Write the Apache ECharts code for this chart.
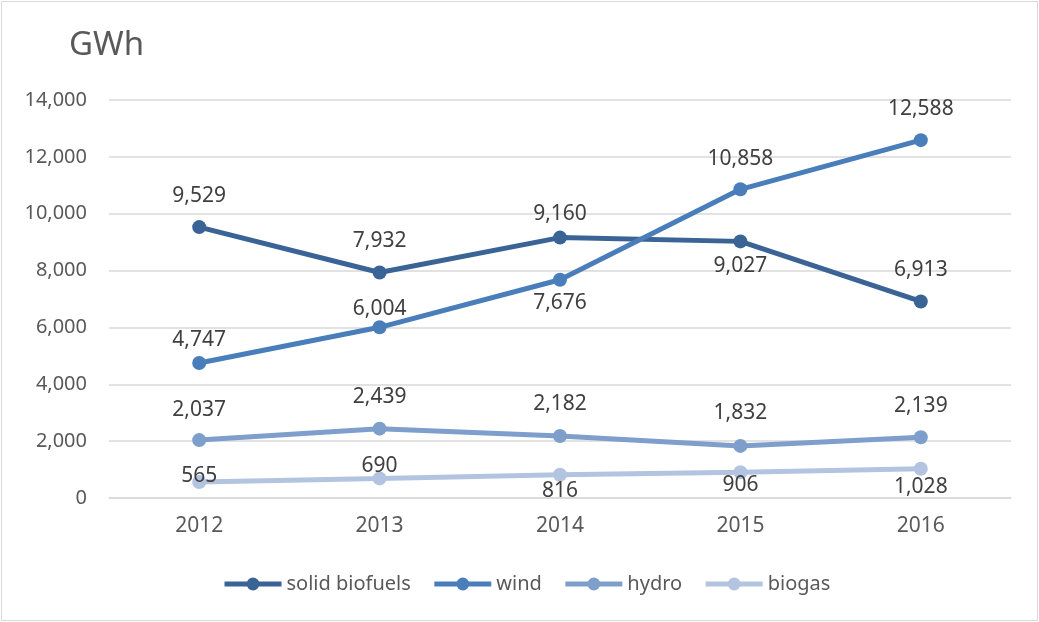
<!DOCTYPE html>
<html>
<head>
<meta charset="utf-8">
<script src="https://cdn.jsdelivr.net/npm/echarts@6/dist/echarts.min.js"></script>
<style>
  html, body { margin: 0; padding: 0; background: #fff; }
  #chart { position: absolute; left: 1px; top: 1px; width: 1035px; height: 618px; border: 1px solid #d9d9d9; }
</style>
</head>
<body>
<div id="chart"></div>
<script>
const years = ['2012', '2013', '2014', '2015', '2016']
const solidBiofuels = [9529, 7932, 9160, 9027, 6913]
const wind = [4747, 6004, 7676, 10858, 12588]
const hydro = [2037, 2439, 2182, 1832, 2139]
const biogas = [565, 690, 816, 906, 1028]

// label placement per point, as in the original: [position, distance]
const solidPos = [['top', 14], ['top', 14], ['top', 6], ['bottom', 7], ['top', 14]]
const windPos = [['top', 6], ['top', 1], ['bottom', 6], ['top', 13], ['top', 14]]
const hydroPos = [['top', 13], ['top', 14], ['top', 14], ['top', 15], ['top', 14]]
const biogasPos = [['inside', 0], ['top', -5], ['bottom', -1], ['bottom', -5], ['bottom', 1]]

const font = 'Noto Sans'
const chart = echarts.init(document.getElementById('chart'))

function mkSeries(name, data, pos, color) {
  return {
    name,
    type: 'line',
    data: data.map((v, i) => ({
      value: v,
      label: pos[i][0] === 'inside'
        ? { position: 'inside', offset: [0, -6] }
        : { position: pos[i][0], distance: pos[i][1] }
    })),
    symbol: 'circle',
    symbolSize: 14,
    lineStyle: { width: 5, color },
    itemStyle: { color },
    label: {
      show: true,
      fontFamily: font,
      fontSize: 21,
      color: '#404040',
      formatter: p => p.value.toLocaleString('en-US')
    },
    emphasis: { disabled: true }
  }
}

chart.setOption({
  animation: false,
  textStyle: { fontFamily: font },
  title: {
    text: 'GWh',
    left: 62,
    top: 22,
    textStyle: { fontFamily: font, fontSize: 33, fontWeight: 'normal', color: '#595959' }
  },
  legend: {
    bottom: 21,
    left: 215,
    itemWidth: 57,
    itemHeight: 16,
    itemGap: 21,
    lineStyle: { width: 5 },
    textStyle: { fontFamily: font, fontSize: 20, color: '#595959' },
    data: ['solid biofuels', 'wind', 'hydro', 'biogas']
  },
  grid: { left: 107, right: 26, top: 98, bottom: 122 },
  xAxis: {
    type: 'category',
    data: years,
    boundaryGap: true,
    axisLine: { lineStyle: { color: '#d9d9d9', width: 1.5 } },
    axisTick: { show: false },
    axisLabel: { fontFamily: font, fontSize: 21, color: '#595959', margin: 18 }
  },
  yAxis: {
    type: 'value',
    min: 0,
    max: 14000,
    interval: 2000,
    axisLine: { show: false },
    axisTick: { show: false },
    splitLine: { lineStyle: { color: '#d9d9d9', width: 1.5 } },
    axisLabel: {
      fontFamily: font,
      fontSize: 20,
      color: '#595959',
      margin: 22,
      formatter: v => v.toLocaleString('en-US')
    }
  },
  series: [
    mkSeries('solid biofuels', solidBiofuels, solidPos, '#3a6396'),
    mkSeries('wind', wind, windPos, '#4a7ebb'),
    mkSeries('hydro', hydro, hydroPos, '#7e9ecb'),
    mkSeries('biogas', biogas, biogasPos, '#b3c4e0')
  ]
})
</script>
</body>
</html>
